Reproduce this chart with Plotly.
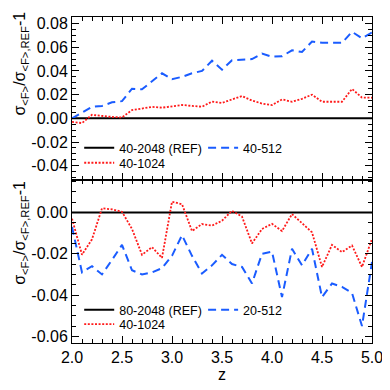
import plotly.graph_objects as go
from plotly.subplots import make_subplots

# redshift grid
z = [2.0, 2.1, 2.2, 2.3, 2.4, 2.5, 2.6, 2.7, 2.8, 2.9,
     3.0, 3.1, 3.2, 3.3, 3.4, 3.5, 3.6, 3.7, 3.8, 3.9,
     4.0, 4.1, 4.2, 4.3, 4.4, 4.5, 4.6, 4.7, 4.8, 4.9, 5.0]

# top panel: relative to 40-2048
top_40_1024 = [-0.003, -0.004, 0.003, 0.002, 0.0012, 0.0008, 0.007, 0.0083, 0.0097, 0.009,
               0.010, 0.0113, 0.0105, 0.0098, 0.0142, 0.013, 0.016, 0.0188, 0.015, 0.0125,
               0.0112, 0.016, 0.014, 0.0165, 0.020, 0.014, 0.014, 0.014, 0.0248, 0.0175, 0.0174]
top_40_512 = [0.000, 0.005, 0.0097, 0.0105, 0.0135, 0.0145, 0.025, 0.0245, 0.031, 0.038,
              0.033, 0.035, 0.038, 0.040, 0.0486, 0.041, 0.049, 0.0495, 0.050, 0.0546,
              0.052, 0.0524, 0.0574, 0.056, 0.0648, 0.0637, 0.0637, 0.0637, 0.073, 0.0676, 0.0725]

# bottom panel: relative to 80-2048
bot_40_1024 = [-0.003, -0.0205, -0.013, 0.002, 0.0015, 0.0003, -0.008, -0.0205, -0.0168, -0.022,
               0.0052, 0.004, -0.009, -0.0056, -0.0064, -0.004, 0.0008, -0.002, -0.015, -0.008,
               -0.0055, -0.009, -0.0008, -0.0052, -0.0096, -0.0264, -0.0157, -0.0192, -0.016, -0.0264, -0.0128]
bot_20_512 = [-0.007, -0.029, -0.026, -0.030, -0.023, -0.0157, -0.028, -0.030, -0.029, -0.027,
              -0.021, -0.011, -0.021, -0.0296, -0.0256, -0.0205, -0.025, -0.0264, -0.0344, -0.020,
              -0.019, -0.041, -0.0176, -0.0256, -0.0176, -0.041, -0.0344, -0.036, -0.039, -0.055, -0.024]

ref = [0.0] * len(z)

x_ticks = [2.0, 2.5, 3.0, 3.5, 4.0, 4.5, 5.0]
x_labels = ["2.0", "2.5", "3.0", "3.5", "4.0", "4.5", "5.0"]
top_yticks = [-0.04, -0.02, 0.0, 0.02, 0.04, 0.06, 0.08]
top_ylabels = ["-0.04", "-0.02", "0.00", "0.02", "0.04", "0.06", "0.08"]
bot_yticks = [-0.06, -0.04, -0.02, 0.0]
bot_ylabels = ["-0.06", "-0.04", "-0.02", "0.00"]

RED = "#ff1a1a"
BLUE = "#1a5cff"
FONT = "Liberation Sans"
DOTS = "2px,1.6px"
DASH = "8px,5px"

fig = make_subplots(rows=2, cols=1, shared_xaxes=True, vertical_spacing=0)

fig.add_trace(go.Scatter(x=z, y=ref, mode="lines", name="40-2048 (REF)",
                         line=dict(color="black", width=2), legend="legend"), row=1, col=1)
fig.add_trace(go.Scatter(x=z, y=top_40_1024, mode="lines", name="40-1024",
                         line=dict(color=RED, width=1.8, dash=DOTS), legend="legend2"), row=1, col=1)
fig.add_trace(go.Scatter(x=z, y=top_40_512, mode="lines", name="40-512",
                         line=dict(color=BLUE, width=2, dash=DASH), legend="legend3"), row=1, col=1)

fig.add_trace(go.Scatter(x=z, y=ref, mode="lines", name="80-2048 (REF)",
                         line=dict(color="black", width=2), legend="legend4"), row=2, col=1)
fig.add_trace(go.Scatter(x=z, y=bot_40_1024, mode="lines", name="40-1024",
                         line=dict(color=RED, width=1.8, dash=DOTS), legend="legend5"), row=2, col=1)
fig.add_trace(go.Scatter(x=z, y=bot_20_512, mode="lines", name="20-512",
                         line=dict(color=BLUE, width=2, dash=DASH), legend="legend6"), row=2, col=1)

axis_common = dict(showline=True, linecolor="black", linewidth=1, mirror="ticks",
                   ticks="inside", ticklen=7, tickcolor="black", showgrid=False, zeroline=False,
                   tickfont=dict(family=FONT, size=16, color="black"))

fig.update_xaxes(axis_common, range=[2, 5], tickmode="array", tickvals=x_ticks, ticktext=x_labels,
                 minor=dict(ticks="inside", ticklen=4, dtick=0.1, tick0=2, tickcolor="black"))
fig.update_xaxes(showticklabels=False, row=1, col=1)
fig.update_xaxes(title=dict(text="z", font=dict(family=FONT, size=16, color="black"), standoff=0),
                 row=2, col=1)

fig.update_yaxes(axis_common, minor=dict(ticks="inside", ticklen=4, dtick=0.005, tick0=0, tickcolor="black"))
fig.update_yaxes(range=[-0.052, 0.0855], tickmode="array", tickvals=top_yticks, ticktext=top_ylabels,
                 row=1, col=1)
fig.update_yaxes(range=[-0.0632, 0.0157], tickmode="array", tickvals=bot_yticks, ticktext=bot_ylabels,
                 row=2, col=1)

ytitle = "σ<sub><F></sub>/σ<sub><F>,REF</sub>-1"
for yc in [0.857, 0.338]:
    fig.add_annotation(text=ytitle, xref="paper", yref="paper", x=-0.17, y=yc,
                       textangle=-90, showarrow=False, xanchor="center", yanchor="middle",
                       font=dict(family=FONT, size=16, color="black"))

leg = dict(xanchor="left", yanchor="middle", bgcolor="rgba(0,0,0,0)", borderwidth=0,
           itemwidth=30, font=dict(family=FONT, size=12.5, color="black"))
col1 = 0.024
col2 = 0.437
fig.update_layout(
    legend=dict(leg, x=col1, y=0.5976),
    legend2=dict(leg, x=col1, y=0.5518),
    legend3=dict(leg, x=col2, y=0.5976),
    legend4=dict(leg, x=col1, y=0.1006),
    legend5=dict(leg, x=col1, y=0.057),
    legend6=dict(leg, x=col2, y=0.1006),
)

# page has a small body margin, so the figure is drawn slightly smaller
fig.update_layout(width=382, height=382, margin=dict(l=64, r=14, t=7, b=47),
                  plot_bgcolor="white", paper_bgcolor="white", showlegend=True,
                  font=dict(family=FONT, color="black"))

fig.write_html("out.html")
